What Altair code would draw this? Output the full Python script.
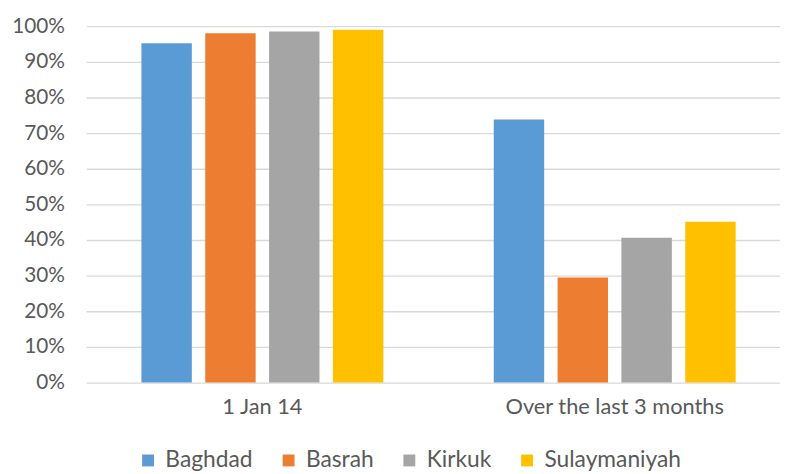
import altair as alt
import pandas as pd

categories = ["1 Jan 14", "Over the last 3 months"]
series = ["Baghdad", "Basrah", "Kirkuk", "Sulaymaniyah"]
colors = ["#5B9BD5", "#ED7D31", "#A5A5A5", "#FFC000"]
values = {
    "Baghdad": [0.952, 0.738],
    "Basrah": [0.980, 0.295],
    "Kirkuk": [0.985, 0.406],
    "Sulaymaniyah": [0.990, 0.451],
}

rows = []
for s in series:
    for c, v in zip(categories, values[s]):
        rows.append({"category": c, "series": s, "value": v})
df = pd.DataFrame(rows)

FONT = "Lato"
TXT = "#595959"

chart = alt.Chart(df).mark_bar().encode(
    x=alt.X("category:N", sort=categories,
            scale=alt.Scale(range=[2, 714], paddingInner=0, paddingOuter=0),
            axis=alt.Axis(title=None, labelAngle=0, ticks=False, domain=False,
                          labelPadding=14, labelFontSize=22, labelColor=TXT,
                          labelFont=FONT, labelLimit=500)),
    xOffset=alt.XOffset("series:N", sort=series,
                        scale=alt.Scale(paddingInner=0.21, paddingOuter=0.865)),
    y=alt.Y("value:Q",
            scale=alt.Scale(domain=[0, 1], nice=False),
            axis=alt.Axis(title=None, format="%", values=[i / 10 for i in range(11)],
                          ticks=False, domain=False, labelPadding=20,
                          labelFontSize=21, labelColor=TXT, labelFont=FONT,
                          gridColor="#D9D9D9", gridWidth=1.3)),
    color=alt.Color("series:N", sort=series,
                    scale=alt.Scale(domain=series, range=colors),
                    legend=alt.Legend(title=None, orient="none", direction="horizontal",
                                      columns=4, legendX=53, legendY=427,
                                      symbolType="square", symbolSize=144,
                                      symbolStrokeWidth=0, symbolOpacity=1,
                                      labelOffset=6, columnPadding=24,
                                      labelFontSize=23, labelColor=TXT, labelFont=FONT,
                                      labelLimit=300, padding=0)),
).properties(
    width=703, height=360,
    autosize=alt.AutoSizeParams(type="none"),
    padding={"left": 77, "top": 16, "right": 0, "bottom": 90},
).configure_view(stroke=None)

chart.save("out.html", embed_options={"renderer": "svg", "actions": False})
